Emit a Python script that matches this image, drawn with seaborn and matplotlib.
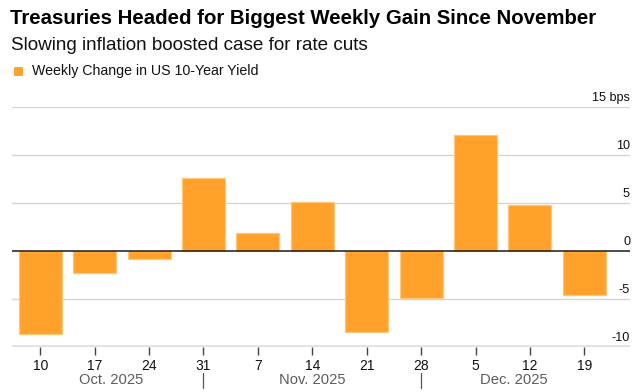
import matplotlib
matplotlib.use("Agg")
import matplotlib.pyplot as plt
import matplotlib.transforms as mtransforms
from matplotlib.patches import FancyBboxPatch
import seaborn as sns
import pandas as pd

# ---- data ----
week_labels = ["10", "17", "24", "31", "7", "14", "21", "28", "5", "12", "19"]
weekly_change_bps = [-8.6, -2.3, -0.8, 7.6, 1.9, 5.1, -8.4, -4.9, 12.1, 4.8, -4.6]
month_labels = ["Oct. 2025", "Nov. 2025", "Dec. 2025"]
month_label_pos = [1.3, 5.0, 8.7]
month_separators = [3, 7]
y_ticks = [15, 10, 5, 0, -5, -10]

title = "Treasuries Headed for Biggest Weekly Gain Since November"
subtitle = "Slowing inflation boosted case for rate cuts"
legend_label = "Weekly Change in US 10-Year Yield"

BAR = "#FFA12B"
EDGE = "#FFC878"

sns.set_theme(style="white")
plt.rcParams["font.family"] = ["Liberation Sans", "DejaVu Sans"]

W, H = 642, 392
fig = plt.figure(figsize=(W / 100, H / 100), dpi=100)
ax = fig.add_axes([12 / W, 1 - 347 / H, (630 - 12) / W, (347 - 107) / H])

df = pd.DataFrame({"week": week_labels, "chg": weekly_change_bps})
sns.barplot(data=df, x="week", y="chg", ax=ax, color=BAR, saturation=1,
            width=0.79, edgecolor=EDGE, linewidth=0.9, zorder=2)

ax.set_xlim(-0.52, 10.84)
ax.set_ylim(-10, 15)
for s in ax.spines.values():
    s.set_visible(False)
ax.set_xlabel("")
ax.set_ylabel("")
ax.set_yticks([])

# gridlines
for v in y_ticks:
    if v == 0:
        ax.axhline(v, color="#1a1a1a", lw=1.1, zorder=3)
    elif v == -10:
        ax.axhline(v, color="#e0e0e0", lw=2.6, zorder=1)
    else:
        ax.axhline(v, color="#d6d6d6", lw=1.0, zorder=1)

# y labels above gridlines, right-aligned
trans_y = mtransforms.blended_transform_factory(ax.transAxes, ax.transData)
off = mtransforms.ScaledTranslation(0, 3 / 100, fig.dpi_scale_trans)
for v in y_ticks:
    lab = f"{v} bps" if v == 15 else f"{v}"
    ax.text(1.0, v, lab, transform=trans_y + off, ha="right", va="bottom",
            fontsize=9.1, color="#111111")

# x ticks
ax.tick_params(axis="x", length=6, width=1, color="#444444", pad=2.5,
               labelsize=10, labelcolor="#111111", bottom=True, direction="out")

# months
trans_x = mtransforms.blended_transform_factory(ax.transData, fig.transFigure)
for lab, p in zip(month_labels, month_label_pos):
    ax.text(p, 1 - 380 / H, lab, transform=trans_x, ha="center", va="center",
            fontsize=10.6, color="#5c5c5c")
for sp in month_separators:
    ax.plot([sp, sp], [1 - 373 / H, 1 - 388 / H], transform=trans_x,
            color="#555555", lw=0.9, clip_on=False)

# titles
fig.text(10 / W, 1 - 18 / H, title, fontsize=14.7, fontweight="bold",
         ha="left", va="center", color="#000000")
fig.text(11 / W, 1 - 45 / H, subtitle, fontsize=13.6,
         ha="left", va="center", color="#111111")
fig.add_artist(FancyBboxPatch((14 / W, 1 - 76 / H), 9 / W, 9 / H,
                              boxstyle="round,pad=0,rounding_size=0.003",
                              transform=fig.transFigure, color=BAR, lw=0))
fig.text(32 / W, 1 - 71 / H, legend_label, fontsize=10.2,
         ha="left", va="center", color="#111111")

fig.savefig("out.png", dpi=100)
